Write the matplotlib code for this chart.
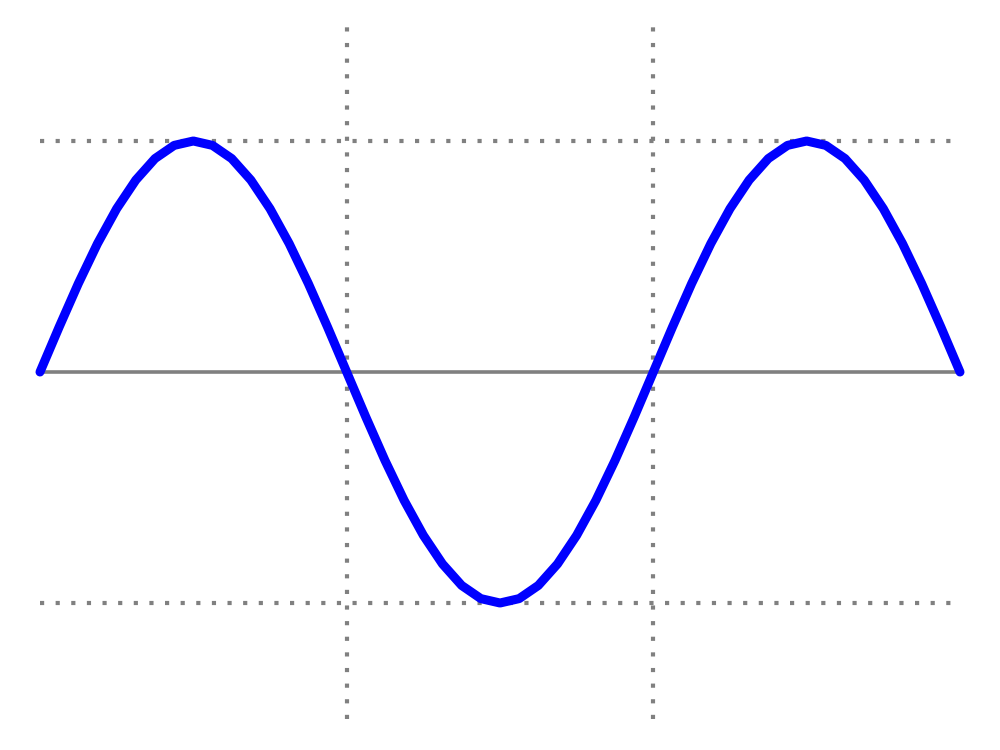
import numpy as np
import matplotlib
matplotlib.use("Agg")
import matplotlib.pyplot as plt

# sample points of the curve, x in multiples of pi/16
x_steps = list(range(49))
y_vals = [0, 0.195, 0.383, 0.556, 0.707, 0.831, 0.924, 0.981,
          1, 0.981, 0.924, 0.831, 0.707, 0.556, 0.383, 0.195,
          0, -0.195, -0.383, -0.556, -0.707, -0.831, -0.924, -0.981,
          -1, -0.981, -0.924, -0.831, -0.707, -0.556, -0.383, -0.195,
          0, 0.195, 0.383, 0.556, 0.707, 0.831, 0.924, 0.981,
          1, 0.981, 0.924, 0.831, 0.707, 0.556, 0.383, 0.195, 0]

x_vals = np.array(x_steps) * np.pi / 16
x_end = 3 * np.pi
v_lines = [np.pi, 2 * np.pi]
h_lines = [1, -1]

fig = plt.figure(figsize=(10, 7.5), dpi=100)
ax = fig.add_axes([0, 0, 1, 1])
ax.axis("off")

u = x_end / 920
ax.set_xlim(-40 * u, x_end + 40 * u)
ax.set_ylim(-378 / 231, 372 / 231)

gray = "#808080"
dots = (0, (1, 2.75))
for xv in v_lines:
    ax.plot([xv, xv], [-1.5, 1.52], color=gray, lw=3, linestyle=dots,
            dash_capstyle="butt")
for yv in h_lines:
    ax.plot([0, x_end], [yv, yv], color=gray, lw=3, linestyle=dots,
            dash_capstyle="butt")
ax.plot([0, x_end], [0, 0], color=gray, lw=2.6)

ax.plot(x_vals, y_vals, color="blue", lw=6.5, solid_capstyle="round",
        solid_joinstyle="round")

plt.savefig("out.png", dpi=100)
